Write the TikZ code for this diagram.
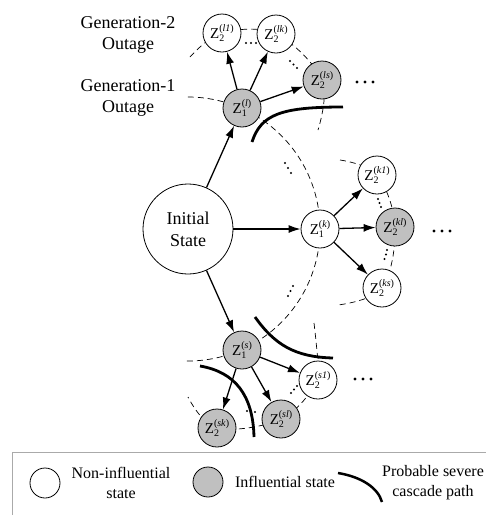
\documentclass[tikz,border=0pt]{standalone}
\usepackage{fontspec}
\setmainfont{Liberation Serif}
\usetikzlibrary{arrows.meta}

% state label: Z with a lowered index and a raised, bracketed italic tag
\newcommand\zlab[2]{Z\rlap{\raisebox{-0.5ex}{\fontsize{10}{10}\selectfont #1}}%
  \raisebox{1.0ex}{\fontsize{10}{10}\selectfont(\textit{#2})}}

\begin{document}
\begin{tikzpicture}[x=1pt,y=-1pt,
  state/.style={circle,draw,line width=0.8pt,minimum size=38pt,inner sep=0pt,
    font=\fontsize{15}{17}\selectfont,fill=white},
  infl/.style={state,fill=infgray},
  flow/.style={line width=1.3pt,-{Latex[length=12pt,width=8pt]}},
  tier/.style={dashed,line width=0.7pt,dash pattern=on 6pt off 4pt},
  severe/.style={line width=2.8pt},
  more/.style={fill=black},
  lbl/.style={align=center,font=\fontsize{18}{21}\selectfont},
  keytext/.style={align=center,font=\fontsize{16}{20}\selectfont}]
\definecolor{infgray}{RGB}{192,192,192}
\definecolor{boxgray}{RGB}{170,170,170}
\useasboundingbox (0,0) rectangle (486,515);

% generation tiers (dashed)
\draw[tier] plot[domain=-90.5:90.5,samples=80,smooth]
  ({188+132*cos(\x)},{229-132*sin(\x)});
\draw[tier] plot[smooth,tension=0.6] coordinates
  {(190,57) (222,33) (276,34) (322,80) (318,130)};
\draw[tier] plot[smooth,tension=0.6] coordinates
  {(340,160) (377,175) (395,227) (382,288) (338,305)};
\draw[tier] plot[smooth,tension=0.6] coordinates
  {(314,323) (317,352) (318,380) (281,419) (217,428) (188,397)};

% states
\node[state,minimum size=90pt,font=\fontsize{18}{22}\selectfont,align=center]
  (init) at (188,229) {Initial\\State};
\node[infl]  (l)  at (242,108) {\zlab{1}{l}};
\node[state] (k)  at (320,229) {\zlab{1}{k}};
\node[infl]  (s)  at (242,350) {\zlab{1}{s}};

\node[state] (l1) at (222,33)  {\zlab{2}{l1}};
\node[state] (lk) at (276,34)  {\zlab{2}{lk}};
\node[infl]  (ls) at (322,80)  {\zlab{2}{ls}};

\node[state] (k1) at (377,175) {\zlab{2}{k1}};
\node[infl]  (kl) at (395,227) {\zlab{2}{kl}};
\node[state] (ks) at (382,288) {\zlab{2}{ks}};

\node[state] (s1) at (318,380) {\zlab{2}{s1}};
\node[infl]  (sl) at (281,419) {\zlab{2}{sl}};
\node[infl]  (sk) at (217,428) {\zlab{2}{sk}};

% transitions
\draw[flow] (init) -- (l);
\draw[flow] (init) -- (k);
\draw[flow] (init) -- (s);
\draw[flow] (l) -- (l1);
\draw[flow] (l) -- (lk);
\draw[flow] (l) -- (ls);
\draw[flow] (k) -- (k1);
\draw[flow] (k) -- (kl);
\draw[flow] (k) -- (ks);
\draw[flow] (s) -- (sk);
\draw[flow] (s) -- (sl);
\draw[flow] (s) -- (s1);

% severe cascade paths
\draw[severe] (252,142) .. controls (261,114) and (282,107) .. (343,107);
\draw[severe] (255,317) .. controls (275,345) and (295,357) .. (333,358);
\draw[severe] (200,366) .. controls (235,372) and (253,395) .. (254,437);

% omitted states along the tiers
\foreach \p in {(246,43),(251,43),(256,43),
                (290,61),(293.5,64.5),(297,68),
                (285,163),(288,168),(291,173),
                (293,286),(290.5,291),(288,296),
                (378,199),(379.5,203),(381,207),
                (387,250),(386,254.5),(384.5,259),
                (297,386),(294,389.5),(291,393),
                (247,411),(251,411),(255,412)}
  \fill \p circle (1.2pt);
\foreach \p in {(357,82),(365,82),(373,82),
                (434,231),(442,231),(450,231),
                (355,379),(363,379),(371,379)}
  \fill[more] \p circle (1.6pt);

% tier labels
\node[lbl] (g2) at (128,35) {Generation-2\\Outage};
\node[lbl] (g1) at (128,98) {Generation-1\\Outage};

% key
\draw[boxgray,line width=0.8pt] (486,452) -- (12,452) -- (12,515);
\node[circle,draw,line width=0.8pt,minimum size=30pt,inner sep=0pt]
  (keyw) at (45,483) {};
\node[keytext] (keywt) at (121,483) {Non-influential\\state};
\node[circle,draw,line width=0.8pt,minimum size=30pt,inner sep=0pt,fill=infgray]
  (keyg) at (208,482) {};
\node[keytext] (keygt) at (285,482) {Influential state};
\draw[severe,line width=2.5pt] (338,473) .. controls (362,477) and (378,488) .. (382,502);
\node[keytext] (keyct) at (433,483) {Probable severe\\cascade path};
\end{tikzpicture}
\end{document}
